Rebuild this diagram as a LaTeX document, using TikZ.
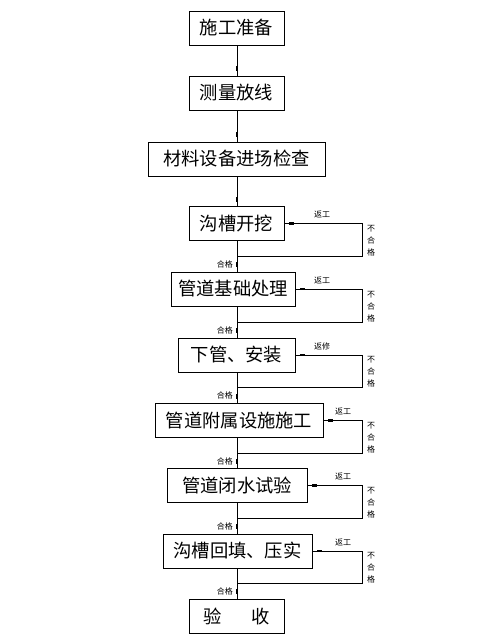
\documentclass[tikz,border=0pt]{standalone}
\usepackage{fontspec}
\setmainfont{Noto Sans CJK SC}
\usetikzlibrary{decorations.markings,calc}
\tikzset{
  box/.style={draw, line width=0.8pt, rectangle, minimum height=34pt, inner sep=0pt, font=\fontsize{18.3}{18.3}\selectfont},
  ln/.style={line width=0.7pt, postaction={decorate, decoration={markings, mark=at position -7pt with {\fill (-2.6pt,-1.4pt) rectangle (2.6pt,1.4pt);}}}},
  small/.style={font=\fontsize{8}{8}\selectfont, inner sep=0pt},
  vert/.style={font=\fontsize{8}{12}\selectfont, inner sep=0pt, align=center}
}
\begin{document}
\begin{tikzpicture}[x=1pt,y=-1pt]
\useasboundingbox (0,0) rectangle (499,642);
\node[box, minimum width=95pt] (b1) at (236.5,28) {施工准备};
\node[box, minimum width=95pt] (b2) at (236.5,93) {测量放线};
\node[box, minimum width=177pt] (b3) at (236.5,159) {材料设备进场检查};
\node[box, minimum width=95pt] (b4) at (236.5,223.5) {沟槽开挖};
\node[box, minimum width=124pt] (b5) at (233,289) {管道基础处理};
\node[box, minimum width=117pt] (b6) at (236.5,355) {下管、安装};
\node[box, minimum width=168pt] (b7) at (239,420.5) {管道附属设施施工};
\node[box, minimum width=140pt] (b8) at (237,485.5) {管道闭水试验};
\node[box, minimum width=149pt] (b9) at (237.5,551) {沟槽回填、压实};
\node[box, minimum width=95pt] (b10) at (236.5,616) {验\hspace{1.6em}收};

% straight connections
\foreach \a/\b in {b1/b2,b2/b3,b3/b4,b4/b5,b5/b6,b6/b7,b7/b8,b8/b9,b9/b10}{
  \draw[ln] (\a.south -| 237,0) -- (\b.north -| 237,0);
}

% feedback loops
\foreach \b/\ya/\yb/\lab/\lx in {b4/223.5/256/返工/322, b5/289/322/返工/322, b6/355/387/返修/322, b7/420.5/453/返工/343, b8/485.5/518/返工/343, b9/551/583/返工/343}{
  \coordinate (\b j) at (237,\yb);
  \coordinate (\b r) at (362,\yb);
  \draw[ln] (\b j) -- (\b r) |- (\b.east);
  \node[small] at (\lx,\ya-9) {\lab};
  \node[vert] at (371,{(\ya+\yb)/2+1}) {不\\合\\格};
  \node[small, anchor=east] at (233,\yb+8) {合格};
}
\end{tikzpicture}
\end{document}
